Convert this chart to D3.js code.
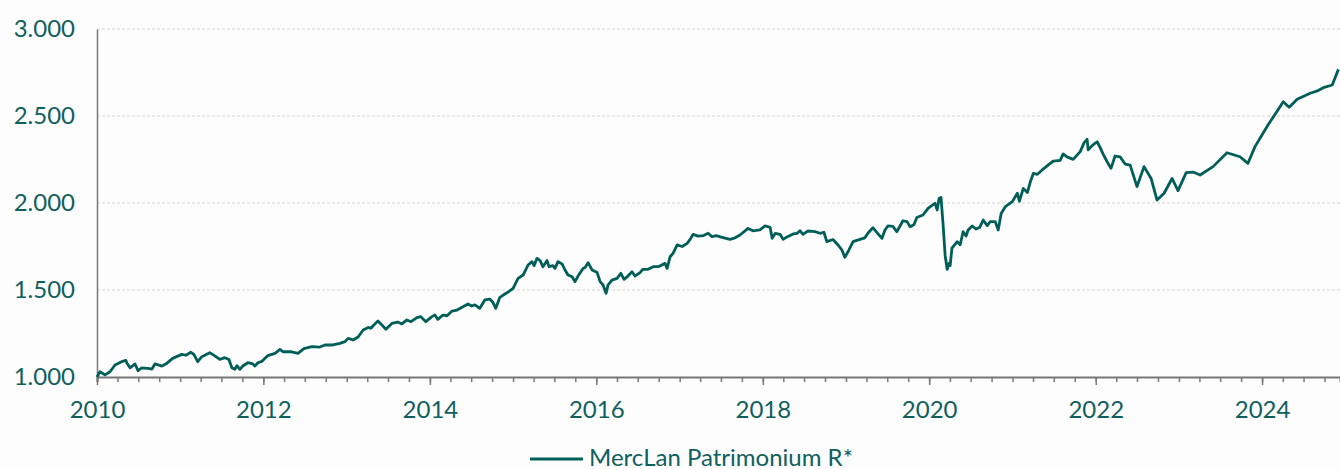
<!DOCTYPE html>
<html>
<head>
<meta charset="utf-8">
<script src="https://cdn.jsdelivr.net/npm/d3@7"></script>
<style>
  html, body { margin: 0; padding: 0; background: #fdfdfd; }
  svg { display: block; }
  text { font-family: Lato, "Open Sans", sans-serif; }
</style>
</head>
<body>
<svg id="chart" width="1340" height="469"></svg>
<script>
const seriesName = "MercLan Patrimonium R*";
const yTicks = [1000, 1500, 2000, 2500, 3000];
const xTickYears = [2010, 2012, 2014, 2016, 2018, 2020, 2022, 2024];

const dates = [
"2010-01-01","2010-01-14","2010-02-05","2010-02-27","2010-03-21","2010-04-19","2010-05-08","2010-05-12","2010-05-26","2010-06-17",
"2010-06-30","2010-07-17","2010-08-12","2010-08-30","2010-09-12","2010-10-13","2010-11-03","2010-11-29","2011-01-08","2011-01-26",
"2011-02-17","2011-03-02","2011-03-19","2011-04-06","2011-05-11","2011-06-02","2011-06-24","2011-07-16","2011-08-03","2011-08-16",
"2011-08-29","2011-09-07","2011-09-20","2011-10-03","2011-10-25","2011-11-16","2011-11-25","2011-12-08","2011-12-26","2012-01-21",
"2012-02-21","2012-03-14","2012-03-27","2012-05-04","2012-06-01","2012-06-23","2012-07-01","2012-08-01","2012-09-05","2012-09-27",
"2012-11-01","2012-12-02","2012-12-24","2013-01-07","2013-01-29","2013-02-20","2013-03-14","2013-04-05","2013-04-17","2013-04-30",
"2013-05-18","2013-05-31","2013-06-22","2013-07-18","2013-08-13","2013-08-31","2013-09-22","2013-10-10","2013-11-05","2013-11-22",
"2013-12-14","2014-01-10","2014-01-23","2014-02-05","2014-02-27","2014-03-17","2014-04-08","2014-04-30","2014-05-26","2014-06-17",
"2014-07-04","2014-07-17","2014-08-08","2014-08-30","2014-09-21","2014-10-04","2014-10-17","2014-11-04","2014-11-26","2014-12-09",
"2015-01-01","2015-01-23","2015-02-14","2015-03-08","2015-03-25","2015-04-03","2015-04-16","2015-04-29","2015-05-12","2015-05-30",
"2015-06-08","2015-06-25","2015-07-04","2015-07-17","2015-08-04","2015-08-17","2015-08-30","2015-09-17","2015-09-30","2015-10-13",
"2015-11-04","2015-11-13","2015-11-26","2015-12-14","2016-01-05","2016-01-18","2016-01-31","2016-02-13","2016-02-22","2016-03-10",
"2016-04-01","2016-04-18","2016-05-02","2016-05-19","2016-06-06","2016-06-19","2016-07-11","2016-07-24","2016-08-15","2016-09-07",
"2016-09-29","2016-10-29","2016-11-07","2016-11-20","2016-12-03","2016-12-21","2017-01-12","2017-02-03","2017-02-16","2017-03-01",
"2017-03-23","2017-04-14","2017-05-06","2017-05-23","2017-06-10","2017-07-06","2017-08-10","2017-09-01","2017-09-23","2017-10-28",
"2017-11-19","2017-12-19","2018-01-11","2018-02-02","2018-02-11","2018-02-24","2018-03-18","2018-03-31","2018-04-17","2018-05-14",
"2018-05-31","2018-06-13","2018-06-26","2018-07-18","2018-08-18","2018-09-09","2018-09-26","2018-10-09","2018-11-05","2018-11-27",
"2018-12-14","2018-12-27","2019-01-14","2019-02-01","2019-03-03","2019-03-25","2019-04-07","2019-04-29","2019-05-17","2019-06-08",
"2019-06-21","2019-07-04","2019-07-26","2019-08-12","2019-09-08","2019-09-26","2019-10-09","2019-10-26","2019-11-08","2019-12-05",
"2019-12-27","2020-01-18","2020-01-27","2020-02-05","2020-02-14","2020-02-22","2020-03-02","2020-03-11","2020-03-20","2020-03-28",
"2020-04-02","2020-04-10","2020-05-03","2020-05-16","2020-05-29","2020-06-11","2020-06-20","2020-07-08","2020-07-25","2020-08-10",
"2020-08-25","2020-09-12","2020-09-25","2020-10-17","2020-10-30","2020-11-12","2020-11-30","2020-12-31","2021-01-22","2021-01-31",
"2021-02-17","2021-03-07","2021-03-20","2021-04-02","2021-04-20","2021-05-11","2021-06-06","2021-06-28","2021-07-29","2021-08-11",
"2021-08-28","2021-09-24","2021-10-25","2021-11-11","2021-11-24","2021-11-29","2021-12-16","2022-01-07","2022-01-20","2022-02-02",
"2022-02-20","2022-03-09","2022-03-27","2022-04-18","2022-05-10","2022-06-01","2022-07-01","2022-08-01","2022-09-01","2022-09-27",
"2022-10-28","2022-12-02","2022-12-28","2023-02-02","2023-03-04","2023-04-04","2023-05-31","2023-07-31","2023-09-26","2023-10-31",
"2023-12-01","2024-01-27","2024-04-03","2024-04-29","2024-06-03","2024-07-30","2024-09-03","2024-09-30","2024-11-04","2024-12-01"
];

const values = [
1000,1030,1012,1030,1069,1088,1095,1080,1053,1075,
1036,1053,1050,1045,1075,1063,1078,1107,1130,1125,
1142,1130,1088,1117,1140,1121,1101,1111,1100,1053,
1044,1065,1044,1063,1082,1075,1063,1082,1090,1123,
1136,1159,1145,1145,1136,1159,1165,1174,1172,1184,
1184,1193,1203,1222,1213,1230,1270,1285,1280,1299,
1322,1305,1274,1308,1316,1305,1328,1318,1341,1347,
1318,1347,1356,1331,1356,1352,1379,1385,1404,1420,
1408,1415,1395,1443,1448,1430,1395,1458,1477,1487,
1509,1567,1586,1644,1663,1640,1682,1670,1634,1669,
1634,1640,1624,1663,1650,1615,1586,1576,1548,1580,
1624,1630,1657,1615,1600,1548,1529,1481,1530,1557,
1567,1596,1561,1580,1605,1580,1600,1619,1619,1634,
1634,1653,1624,1691,1711,1759,1750,1768,1791,1820,
1810,1812,1826,1806,1812,1803,1791,1800,1816,1854,
1840,1845,1868,1860,1797,1825,1820,1791,1805,1822,
1825,1841,1820,1839,1835,1826,1832,1778,1790,1759,
1730,1688,1730,1778,1791,1800,1826,1858,1830,1797,
1845,1868,1866,1835,1898,1893,1864,1875,1917,1931,
1969,1990,1998,1960,2027,2032,1879,1700,1619,1653,
1640,1740,1778,1760,1835,1810,1845,1868,1850,1860,
1902,1870,1893,1893,1845,1940,1979,2008,2056,2010,
2084,2060,2122,2170,2165,2190,2218,2241,2245,2282,
2265,2251,2295,2347,2366,2305,2330,2352,2320,2282,
2237,2199,2270,2265,2224,2218,2094,2209,2141,2017,
2056,2141,2071,2175,2178,2161,2209,2289,2266,2228,
2324,2448,2582,2550,2596,2631,2646,2665,2678,2768
];

const parse = d3.timeParse("%Y-%m-%d");
const data = dates.map((d, i) => ({ date: parse(d), value: values[i] }));

const teal = "#005e59";
const textColor = "#0f605d";
const axisGray = "#777777";

const margin = { left: 97, right: 0, top: 29, bottom: 92 };
const W = 1340, H = 469;
const svg = d3.select("#chart");

const x = d3.scaleTime()
  .domain([new Date(2010, 0, 1), new Date(2024, 11, 8)])
  .range([margin.left, W - margin.right]);
const y = d3.scaleLinear()
  .domain([1000, 3000])
  .range([H - margin.bottom, margin.top]);

const loc = d3.formatLocale({ decimal: ",", thousands: ".", grouping: [3], currency: ["", " €"] });
const fmt = loc.format(",");

// gridlines
svg.append("g")
  .selectAll("line")
  .data(yTicks.filter(v => v !== 1000))
  .join("line")
  .attr("x1", margin.left).attr("x2", W)
  .attr("y1", d => y(d)).attr("y2", d => y(d))
  .attr("stroke", "#d4d4d4")
  .attr("stroke-width", 1)
  .attr("stroke-dasharray", "3,2");

// y axis
const yAxis = svg.append("g")
  .attr("transform", `translate(${margin.left},0)`)
  .call(d3.axisLeft(y).tickValues(yTicks).tickFormat(fmt).tickSize(0).tickPadding(22));
yAxis.select(".domain").attr("stroke", axisGray).attr("stroke-width", 1.5);
yAxis.selectAll("text").attr("fill", textColor).attr("font-size", 24).attr("font-family", "Lato");

// x axis minor ticks (quarterly)
const xMinor = svg.append("g")
  .attr("transform", `translate(0,${y(1000)})`)
  .call(d3.axisBottom(x).ticks(d3.timeMonth.every(3)).tickSize(5).tickFormat(""));
xMinor.select(".domain").attr("stroke", axisGray).attr("stroke-width", 2);
xMinor.selectAll(".tick line").attr("stroke", axisGray).attr("stroke-width", 1.5);

// x axis major ticks + labels
const xMajor = svg.append("g")
  .attr("transform", `translate(0,${y(1000)})`)
  .call(d3.axisBottom(x)
    .tickValues(xTickYears.map(yr => new Date(yr, 0, 1)))
    .tickFormat(d3.timeFormat("%Y"))
    .tickSize(8).tickPadding(16));
xMajor.select(".domain").remove();
xMajor.selectAll(".tick line").attr("stroke", axisGray).attr("stroke-width", 1.5);
xMajor.selectAll("text").attr("fill", textColor).attr("font-size", 24).attr("font-family", "Lato");

// line
const line = d3.line().x(d => x(d.date)).y(d => y(d.value));
svg.append("path")
  .datum(data)
  .attr("fill", "none")
  .attr("stroke", teal)
  .attr("stroke-width", 2.8)
  .attr("stroke-linejoin", "round")
  .attr("d", line);

// legend
const lg = svg.append("g").attr("transform", "translate(530,459)");
lg.append("line").attr("x1", 0).attr("x2", 53).attr("y1", 0).attr("y2", 0)
  .attr("stroke", teal).attr("stroke-width", 3);
lg.append("text").attr("x", 59).attr("y", 6.5)
  .attr("fill", textColor).attr("font-size", 24).attr("font-family", "Lato")
  .text(seriesName);
</script>
</body>
</html>
